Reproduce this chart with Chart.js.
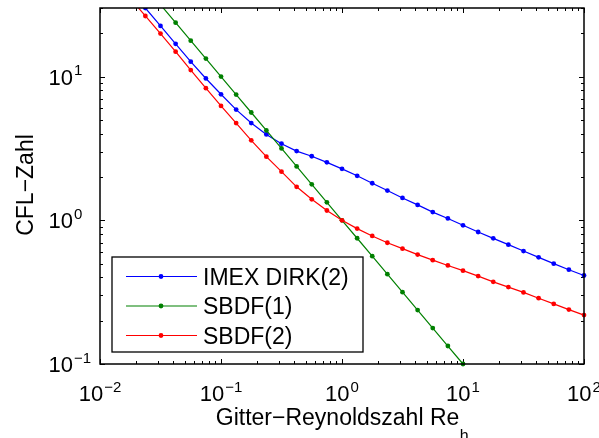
<!DOCTYPE html>
<html><head><meta charset="utf-8">
<script src="https://cdn.jsdelivr.net/npm/chart.js@4/dist/chart.umd.min.js"></script>
<style>html,body{margin:0;padding:0;background:#fff;}#wrap{width:599px;height:438px;}</style>
</head><body><div id="wrap"><canvas id="c" width="599" height="438"></canvas></div>
<script>
// Gitter-Reynoldszahl values (8 points per decade)
const reynolds = [0.01778, 0.02371, 0.03162, 0.04217, 0.05623, 0.07499, 0.1, 0.1334, 0.1778, 0.2371,
  0.3162, 0.4217, 0.5623, 0.7499, 1, 1.334, 1.778, 2.371, 3.162, 4.217, 5.623, 7.499, 10,
  13.34, 17.78, 23.71, 31.62, 42.17, 56.23, 74.99, 100];
const imexDirk2 = [40.0, 30.0, 22.5, 16.9, 12.7, 9.7, 7.53, 5.89, 4.75, 3.96,
  3.41, 3.03, 2.79, 2.53, 2.28, 2.04, 1.81, 1.61, 1.43, 1.28, 1.14, 1.03, 0.923,
  0.829, 0.749, 0.677, 0.611, 0.552, 0.499, 0.453, 0.413];
const sbdf2 = [35.0, 26.4, 19.9, 14.9, 11.1, 8.30, 6.25, 4.75, 3.60, 2.77,
  2.18, 1.71, 1.40, 1.17, 1.0, 0.875, 0.778, 0.698, 0.635, 0.577, 0.528, 0.485, 0.446,
  0.409, 0.373, 0.343, 0.315, 0.287, 0.262, 0.239, 0.219];
const sbdf1Reynolds = [0.03162, 0.04217, 0.05623, 0.07499, 0.1, 0.1334, 0.1778, 0.2371,
  0.3162, 0.4217, 0.5623, 0.7499, 1, 1.334, 1.778, 2.371, 3.162, 4.217, 5.623, 7.499, 10];
const sbdf1 = [31.62, 23.71, 17.78, 13.34, 10.0, 7.499, 5.623, 4.217,
  3.162, 2.371, 1.778, 1.334, 1.0, 0.7499, 0.5623, 0.4217, 0.3162, 0.2371, 0.1778, 0.1334, 0.1];
const seriesNames = ['IMEX DIRK(2)', 'SBDF(1)', 'SBDF(2)'];
const xTicks = [0.01, 0.1, 1, 10, 100];
const xTickExp = ['\u22122', '\u22121', '0', '1', '2'];
const yTicks = [0.1, 1, 10];
const yTickExp = ['\u22121', '0', '1'];
const xTitle = 'Gitter\u2212Reynoldszahl Re';
const xTitleSub = 'h';
const yTitle = 'CFL\u2212Zahl';

const colors = ['#0000ff', '#008000', '#ff0000'];
const FONT = '"Liberation Sans", Arial, Helvetica, sans-serif';

function pts(xs, ys) { return xs.map((x, i) => ({x: x, y: ys[i]})); }

function drawPow(ctx, exp, x, y, center) {
  ctx.font = '22px ' + FONT;
  const wb = ctx.measureText('10').width;
  ctx.font = '15px ' + FONT;
  const we = ctx.measureText(exp).width;
  const x0 = center ? x - (wb + we + 1) / 2 : x - wb;
  ctx.textAlign = 'left';
  ctx.textBaseline = 'alphabetic';
  ctx.fillStyle = '#000';
  ctx.font = '22px ' + FONT;
  ctx.fillText('10', x0, y);
  ctx.font = '15px ' + FONT;
  ctx.fillText(exp, x0 + wb + 1, y - 9.5);
}

const axesPlugin = {
  id: 'matlabAxes',
  beforeDatasetsDraw(chart) {
    const ctx = chart.ctx, a = chart.chartArea, xs = chart.scales.x, ys = chart.scales.y;
    ctx.save();
    ctx.strokeStyle = '#000';
    ctx.lineWidth = 1;
    const L = Math.round(a.left), R = Math.round(a.right);
    const T = Math.round(a.top), B = Math.round(a.bottom);
    ctx.beginPath();
    for (let d = -2; d <= 2; d++) {
      for (let m = 1; m <= 9; m++) {
        const v = m * Math.pow(10, d);
        if (v < 0.01 - 1e-9 || v > 100 + 1e-9) continue;
        const len = m === 1 ? 5 : 3;
        const px = Math.round(xs.getPixelForValue(v)) + 0.5;
        ctx.moveTo(px, B); ctx.lineTo(px, B - len);
        ctx.moveTo(px, T); ctx.lineTo(px, T + len);
      }
    }
    for (let d = -1; d <= 1; d++) {
      for (let m = 1; m <= 9; m++) {
        const v = m * Math.pow(10, d);
        if (v < 0.1 - 1e-9 || v > 30 + 1e-9) continue;
        const len = m === 1 ? 5 : 3;
        const py = Math.round(ys.getPixelForValue(v)) + 0.5;
        ctx.moveTo(L, py); ctx.lineTo(L + len, py);
        ctx.moveTo(R, py); ctx.lineTo(R - len, py);
      }
    }
    ctx.stroke();
    ctx.restore();
  },
  afterDraw(chart) {
    const ctx = chart.ctx, a = chart.chartArea, xs = chart.scales.x, ys = chart.scales.y;
    ctx.save();
    // box
    ctx.strokeStyle = '#000';
    ctx.lineWidth = 1.5;
    const L = Math.round(a.left), R = Math.round(a.right);
    const T = Math.round(a.top), B = Math.round(a.bottom);
    ctx.strokeRect(L, T, R - L, B - T);
    // tick labels
    xTicks.forEach((v, i) => drawPow(ctx, xTickExp[i], xs.getPixelForValue(v), 401, true));
    yTicks.forEach((v, i) => drawPow(ctx, yTickExp[i], 73, ys.getPixelForValue(v) + 8, false));
    // x title
    ctx.fillStyle = '#000';
    ctx.textBaseline = 'alphabetic';
    ctx.textAlign = 'left';
    ctx.font = '23px ' + FONT;
    const wt = ctx.measureText(xTitle).width;
    ctx.font = '16px ' + FONT;
    const ws = ctx.measureText(xTitleSub).width;
    const cx = (a.left + a.right) / 2;
    const x0 = cx - (wt + ws) / 2;
    ctx.font = '23px ' + FONT;
    ctx.fillText(xTitle, x0, 424.5);
    ctx.font = '16px ' + FONT;
    ctx.fillText(xTitleSub, x0 + wt + 0.5, 440.5);
    // y title
    ctx.save();
    ctx.translate(33, (a.top + a.bottom) / 2 - 1);
    ctx.rotate(-Math.PI / 2);
    ctx.textAlign = 'center';
    ctx.font = '23px ' + FONT;
    ctx.fillText(yTitle, 0, 0);
    ctx.restore();
    // legend
    const lx = 112, ly = 257, lw = 251, lh = 95;
    ctx.fillStyle = '#fff';
    ctx.fillRect(lx, ly, lw, lh);
    ctx.strokeStyle = '#000';
    ctx.lineWidth = 1.3;
    ctx.strokeRect(lx, ly, lw, lh);
    const rows = [276, 305.5, 335];
    seriesNames.forEach((name, i) => {
      const y = rows[i];
      ctx.strokeStyle = colors[i];
      ctx.lineWidth = 1.2;
      ctx.beginPath();
      ctx.moveTo(126, y + 0.5); ctx.lineTo(197, y + 0.5);
      ctx.stroke();
      ctx.fillStyle = colors[i];
      ctx.beginPath();
      ctx.arc(161, y + 0.5, 2.4, 0, Math.PI * 2);
      ctx.fill();
      ctx.fillStyle = '#000';
      ctx.font = '23px ' + FONT;
      ctx.textAlign = 'left';
      ctx.fillText(name, 203, y + 8.5);
    });
    ctx.restore();
  }
};

const dsBase = {showLine: true, borderWidth: 1.2, pointRadius: 2.4, pointBorderWidth: 0, pointHoverRadius: 2.4, fill: false, tension: 0};
new Chart(document.getElementById('c').getContext('2d'), {
  type: 'scatter',
  data: {
    datasets: [
      Object.assign({}, dsBase, {label: seriesNames[0], data: pts(reynolds, imexDirk2), borderColor: colors[0], backgroundColor: colors[0], order: 2, clip: {left: 0, top: 0, right: 3, bottom: 0}}),
      Object.assign({}, dsBase, {label: seriesNames[1], data: pts(sbdf1Reynolds, sbdf1), borderColor: colors[1], backgroundColor: colors[1], order: 1, clip: {left: 0, top: 0, right: 0, bottom: 3}}),
      Object.assign({}, dsBase, {label: seriesNames[2], data: pts(reynolds, sbdf2), borderColor: colors[2], backgroundColor: colors[2], order: 0, clip: {left: 0, top: 0, right: 3, bottom: 0}})
    ]
  },
  options: {
    responsive: false,
    animation: false,
    devicePixelRatio: 1,
    layout: {padding: {left: 100, right: 15, top: 8, bottom: 74}},
    scales: {
      x: {type: 'logarithmic', min: 0.01, max: 100, display: false},
      y: {type: 'logarithmic', min: 0.1, max: 30, display: false}
    },
    plugins: {legend: {display: false}, tooltip: {enabled: false}}
  },
  plugins: [axesPlugin]
});
</script></body></html>
